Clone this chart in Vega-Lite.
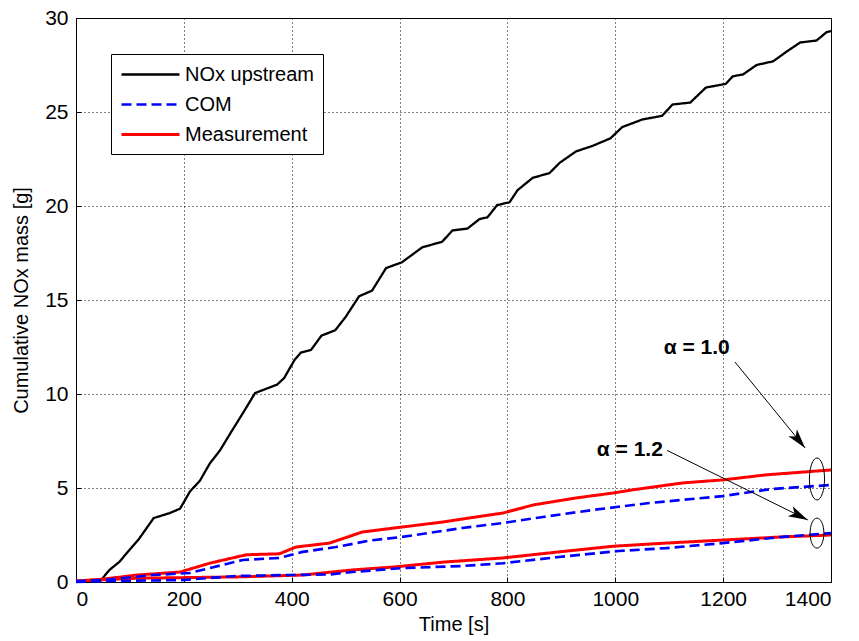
{
  "$schema": "https://vega.github.io/schema/vega-lite/v6.json",
  "width": 755,
  "height": 564,
  "autosize": "none",
  "padding": {"left": 76, "top": 18, "right": 28, "bottom": 59},
  "background": "white",
  "config": {
    "font": "Liberation Sans",
    "view": {"stroke": "#000000", "strokeWidth": 1},
    "axis": {
      "labelFont": "Liberation Sans",
      "titleFont": "Liberation Sans",
      "labelFontSize": 21,
      "titleFontSize": 20,
      "titleFontWeight": "normal",
      "labelColor": "#000000",
      "titleColor": "#000000",
      "domain": false,
      "grid": true,
      "gridColor": "#000000",
      "gridOpacity": 1,
      "gridWidth": 1,
      "gridDash": [1, 3],
      "tickColor": "#000000",
      "tickSize": -5
    }
  },
  "datasets": {
    "curves": [
      {"t": 0, "v": 0.05, "series": "NOx upstream", "case": "up"},
      {"t": 45, "v": 0.05, "series": "NOx upstream", "case": "up"},
      {"t": 62, "v": 0.64, "series": "NOx upstream", "case": "up"},
      {"t": 80, "v": 1.06, "series": "NOx upstream", "case": "up"},
      {"t": 99, "v": 1.7, "series": "NOx upstream", "case": "up"},
      {"t": 117, "v": 2.3, "series": "NOx upstream", "case": "up"},
      {"t": 144, "v": 3.4, "series": "NOx upstream", "case": "up"},
      {"t": 174, "v": 3.67, "series": "NOx upstream", "case": "up"},
      {"t": 193, "v": 3.9, "series": "NOx upstream", "case": "up"},
      {"t": 211, "v": 4.8, "series": "NOx upstream", "case": "up"},
      {"t": 230, "v": 5.4, "series": "NOx upstream", "case": "up"},
      {"t": 248, "v": 6.3, "series": "NOx upstream", "case": "up"},
      {"t": 267, "v": 7.0, "series": "NOx upstream", "case": "up"},
      {"t": 286, "v": 7.9, "series": "NOx upstream", "case": "up"},
      {"t": 312, "v": 9.1, "series": "NOx upstream", "case": "up"},
      {"t": 332, "v": 10.05, "series": "NOx upstream", "case": "up"},
      {"t": 373, "v": 10.5, "series": "NOx upstream", "case": "up"},
      {"t": 386, "v": 10.85, "series": "NOx upstream", "case": "up"},
      {"t": 405, "v": 11.8, "series": "NOx upstream", "case": "up"},
      {"t": 417, "v": 12.2, "series": "NOx upstream", "case": "up"},
      {"t": 436, "v": 12.35, "series": "NOx upstream", "case": "up"},
      {"t": 455, "v": 13.1, "series": "NOx upstream", "case": "up"},
      {"t": 481, "v": 13.4, "series": "NOx upstream", "case": "up"},
      {"t": 500, "v": 14.1, "series": "NOx upstream", "case": "up"},
      {"t": 525, "v": 15.2, "series": "NOx upstream", "case": "up"},
      {"t": 549, "v": 15.5, "series": "NOx upstream", "case": "up"},
      {"t": 575, "v": 16.7, "series": "NOx upstream", "case": "up"},
      {"t": 604, "v": 17.0, "series": "NOx upstream", "case": "up"},
      {"t": 642, "v": 17.8, "series": "NOx upstream", "case": "up"},
      {"t": 679, "v": 18.1, "series": "NOx upstream", "case": "up"},
      {"t": 698, "v": 18.7, "series": "NOx upstream", "case": "up"},
      {"t": 726, "v": 18.8, "series": "NOx upstream", "case": "up"},
      {"t": 748, "v": 19.3, "series": "NOx upstream", "case": "up"},
      {"t": 763, "v": 19.4, "series": "NOx upstream", "case": "up"},
      {"t": 781, "v": 20.05, "series": "NOx upstream", "case": "up"},
      {"t": 804, "v": 20.2, "series": "NOx upstream", "case": "up"},
      {"t": 819, "v": 20.85, "series": "NOx upstream", "case": "up"},
      {"t": 847, "v": 21.5, "series": "NOx upstream", "case": "up"},
      {"t": 878, "v": 21.75, "series": "NOx upstream", "case": "up"},
      {"t": 897, "v": 22.3, "series": "NOx upstream", "case": "up"},
      {"t": 927, "v": 22.9, "series": "NOx upstream", "case": "up"},
      {"t": 958, "v": 23.2, "series": "NOx upstream", "case": "up"},
      {"t": 991, "v": 23.6, "series": "NOx upstream", "case": "up"},
      {"t": 1013, "v": 24.2, "series": "NOx upstream", "case": "up"},
      {"t": 1050, "v": 24.6, "series": "NOx upstream", "case": "up"},
      {"t": 1087, "v": 24.8, "series": "NOx upstream", "case": "up"},
      {"t": 1106, "v": 25.4, "series": "NOx upstream", "case": "up"},
      {"t": 1139, "v": 25.5, "series": "NOx upstream", "case": "up"},
      {"t": 1168, "v": 26.3, "series": "NOx upstream", "case": "up"},
      {"t": 1205, "v": 26.5, "series": "NOx upstream", "case": "up"},
      {"t": 1218, "v": 26.9, "series": "NOx upstream", "case": "up"},
      {"t": 1237, "v": 27.0, "series": "NOx upstream", "case": "up"},
      {"t": 1262, "v": 27.5, "series": "NOx upstream", "case": "up"},
      {"t": 1293, "v": 27.7, "series": "NOx upstream", "case": "up"},
      {"t": 1317, "v": 28.2, "series": "NOx upstream", "case": "up"},
      {"t": 1343, "v": 28.7, "series": "NOx upstream", "case": "up"},
      {"t": 1373, "v": 28.8, "series": "NOx upstream", "case": "up"},
      {"t": 1392, "v": 29.25, "series": "NOx upstream", "case": "up"},
      {"t": 1400, "v": 29.3, "series": "NOx upstream", "case": "up"},

      {"t": 0, "v": 0.05, "series": "Measurement", "case": "a10"},
      {"t": 50, "v": 0.15, "series": "Measurement", "case": "a10"},
      {"t": 113, "v": 0.37, "series": "Measurement", "case": "a10"},
      {"t": 193, "v": 0.53, "series": "Measurement", "case": "a10"},
      {"t": 248, "v": 1.0, "series": "Measurement", "case": "a10"},
      {"t": 316, "v": 1.45, "series": "Measurement", "case": "a10"},
      {"t": 377, "v": 1.5, "series": "Measurement", "case": "a10"},
      {"t": 408, "v": 1.86, "series": "Measurement", "case": "a10"},
      {"t": 470, "v": 2.07, "series": "Measurement", "case": "a10"},
      {"t": 531, "v": 2.66, "series": "Measurement", "case": "a10"},
      {"t": 590, "v": 2.87, "series": "Measurement", "case": "a10"},
      {"t": 682, "v": 3.2, "series": "Measurement", "case": "a10"},
      {"t": 742, "v": 3.46, "series": "Measurement", "case": "a10"},
      {"t": 792, "v": 3.67, "series": "Measurement", "case": "a10"},
      {"t": 848, "v": 4.1, "series": "Measurement", "case": "a10"},
      {"t": 927, "v": 4.47, "series": "Measurement", "case": "a10"},
      {"t": 995, "v": 4.73, "series": "Measurement", "case": "a10"},
      {"t": 1032, "v": 4.9, "series": "Measurement", "case": "a10"},
      {"t": 1125, "v": 5.27, "series": "Measurement", "case": "a10"},
      {"t": 1199, "v": 5.43, "series": "Measurement", "case": "a10"},
      {"t": 1280, "v": 5.7, "series": "Measurement", "case": "a10"},
      {"t": 1400, "v": 5.96, "series": "Measurement", "case": "a10"},

      {"t": 0, "v": 0.05, "series": "Measurement", "case": "a12"},
      {"t": 113, "v": 0.2, "series": "Measurement", "case": "a12"},
      {"t": 298, "v": 0.27, "series": "Measurement", "case": "a12"},
      {"t": 420, "v": 0.37, "series": "Measurement", "case": "a12"},
      {"t": 512, "v": 0.64, "series": "Measurement", "case": "a12"},
      {"t": 590, "v": 0.8, "series": "Measurement", "case": "a12"},
      {"t": 682, "v": 1.06, "series": "Measurement", "case": "a12"},
      {"t": 792, "v": 1.28, "series": "Measurement", "case": "a12"},
      {"t": 895, "v": 1.6, "series": "Measurement", "case": "a12"},
      {"t": 995, "v": 1.9, "series": "Measurement", "case": "a12"},
      {"t": 1094, "v": 2.07, "series": "Measurement", "case": "a12"},
      {"t": 1199, "v": 2.23, "series": "Measurement", "case": "a12"},
      {"t": 1310, "v": 2.4, "series": "Measurement", "case": "a12"},
      {"t": 1400, "v": 2.5, "series": "Measurement", "case": "a12"},

      {"t": 0, "v": 0.05, "series": "COM", "case": "c10"},
      {"t": 50, "v": 0.1, "series": "COM", "case": "c10"},
      {"t": 142, "v": 0.37, "series": "COM", "case": "c10"},
      {"t": 211, "v": 0.48, "series": "COM", "case": "c10"},
      {"t": 248, "v": 0.74, "series": "COM", "case": "c10"},
      {"t": 309, "v": 1.17, "series": "COM", "case": "c10"},
      {"t": 377, "v": 1.28, "series": "COM", "case": "c10"},
      {"t": 420, "v": 1.6, "series": "COM", "case": "c10"},
      {"t": 482, "v": 1.86, "series": "COM", "case": "c10"},
      {"t": 544, "v": 2.2, "series": "COM", "case": "c10"},
      {"t": 605, "v": 2.4, "series": "COM", "case": "c10"},
      {"t": 716, "v": 2.87, "series": "COM", "case": "c10"},
      {"t": 792, "v": 3.14, "series": "COM", "case": "c10"},
      {"t": 866, "v": 3.46, "series": "COM", "case": "c10"},
      {"t": 958, "v": 3.83, "series": "COM", "case": "c10"},
      {"t": 1006, "v": 4.0, "series": "COM", "case": "c10"},
      {"t": 1063, "v": 4.2, "series": "COM", "case": "c10"},
      {"t": 1199, "v": 4.57, "series": "COM", "case": "c10"},
      {"t": 1291, "v": 4.95, "series": "COM", "case": "c10"},
      {"t": 1400, "v": 5.16, "series": "COM", "case": "c10"},

      {"t": 0, "v": 0.0, "series": "COM", "case": "c12"},
      {"t": 50, "v": 0.05, "series": "COM", "case": "c12"},
      {"t": 193, "v": 0.1, "series": "COM", "case": "c12"},
      {"t": 298, "v": 0.32, "series": "COM", "case": "c12"},
      {"t": 396, "v": 0.37, "series": "COM", "case": "c12"},
      {"t": 470, "v": 0.4, "series": "COM", "case": "c12"},
      {"t": 512, "v": 0.53, "series": "COM", "case": "c12"},
      {"t": 605, "v": 0.74, "series": "COM", "case": "c12"},
      {"t": 716, "v": 0.85, "series": "COM", "case": "c12"},
      {"t": 792, "v": 1.0, "series": "COM", "case": "c12"},
      {"t": 895, "v": 1.33, "series": "COM", "case": "c12"},
      {"t": 1006, "v": 1.65, "series": "COM", "case": "c12"},
      {"t": 1094, "v": 1.8, "series": "COM", "case": "c12"},
      {"t": 1199, "v": 2.07, "series": "COM", "case": "c12"},
      {"t": 1310, "v": 2.4, "series": "COM", "case": "c12"},
      {"t": 1400, "v": 2.6, "series": "COM", "case": "c12"}
    ],
    "notes": [
      {"label": "α = 1.0", "tx": 1151, "ty": 12.45, "ax": 1222, "ay": 11.7, "hx": 1352, "hy": 7.13, "ex": 1374, "ey": 5.48},
      {"label": "α = 1.2", "tx": 1027, "ty": 7.0, "ax": 1096, "ay": 7.0, "hx": 1357, "hy": 3.3, "ex": 1374, "ey": 2.6}
    ]
  },
  "layer": [
    {
      "data": {"name": "curves"},
      "mark": {"type": "line", "interpolate": "linear", "strokeCap": "butt"},
      "encoding": {
        "x": {"field": "t", "type": "quantitative", "scale": {"domain": [0, 1400], "nice": false}, "axis": {"title": "Time [s]", "format": "d", "values": [0, 200, 400, 600, 800, 1000, 1200, 1400], "labelPadding": 11, "titlePadding": 5}},
        "y": {"field": "v", "type": "quantitative", "scale": {"domain": [0, 30], "nice": false}, "axis": {"title": "Cumulative NOx mass [g]", "values": [0, 5, 10, 15, 20, 25, 30], "labelPadding": 13, "titlePadding": 13}},
        "color": {
          "field": "series", "type": "nominal",
          "scale": {"domain": ["NOx upstream", "COM", "Measurement"], "range": ["#000000", "#0000ff", "#ff0000"]},
          "legend": {
            "title": null, "orient": "none", "legendX": 35, "legendY": 36,
            "strokeColor": "#000000", "fillColor": "#ffffff", "padding": 9,
            "labelFontSize": 20, "labelFont": "Liberation Sans", "labelColor": "#000000",
            "symbolType": "M-1,0 L4.8,0", "symbolSize": 400, "labelOffset": 42, "rowPadding": 8
          }
        },
        "strokeDash": {
          "field": "series", "type": "nominal",
          "scale": {"domain": ["NOx upstream", "COM", "Measurement"], "range": [[1, 0], [10, 5], [1, 0]]}
        },
        "strokeWidth": {
          "field": "series", "type": "nominal",
          "scale": {"domain": ["NOx upstream", "COM", "Measurement"], "range": [2.3, 3, 3.5]}
        },
        "detail": {"field": "case", "type": "nominal"},
        "order": {"field": "t", "type": "quantitative"}
      }
    },
    {
      "data": {"name": "notes"},
      "mark": {"type": "rule", "color": "#000000", "strokeWidth": 1},
      "encoding": {
        "x": {"field": "ax", "type": "quantitative"},
        "y": {"field": "ay", "type": "quantitative"},
        "x2": {"field": "hx"},
        "y2": {"field": "hy"}
      }
    },
    {
      "data": {"name": "notes"},
      "transform": [{"filter": "datum.label === 'α = 1.0'"}],
      "mark": {"type": "point", "shape": "M0,0 L-0.45,1.6 L0,1.2 L0.45,1.6 Z", "filled": true, "color": "#000000", "size": 600, "angle": 140.5, "opacity": 1},
      "encoding": {
        "x": {"field": "hx", "type": "quantitative"},
        "y": {"field": "hy", "type": "quantitative"}
      }
    },
    {
      "data": {"name": "notes"},
      "transform": [{"filter": "datum.label === 'α = 1.2'"}],
      "mark": {"type": "point", "shape": "M0,0 L-0.45,1.6 L0,1.2 L0.45,1.6 Z", "filled": true, "color": "#000000", "size": 600, "angle": 116.4, "opacity": 1},
      "encoding": {
        "x": {"field": "hx", "type": "quantitative"},
        "y": {"field": "hy", "type": "quantitative"}
      }
    },
    {
      "data": {"name": "notes"},
      "mark": {"type": "text", "font": "Liberation Sans", "fontSize": 21, "fontWeight": "bold", "color": "#000000", "align": "center", "baseline": "middle"},
      "encoding": {
        "x": {"field": "tx", "type": "quantitative"},
        "y": {"field": "ty", "type": "quantitative"},
        "text": {"field": "label", "type": "nominal"}
      }
    },
    {
      "data": {"name": "notes"},
      "transform": [{"filter": "datum.label === 'α = 1.0'"}],
      "mark": {"type": "point", "shape": "M0,-1 A0.36,1 0 1,1 0,1 A0.36,1 0 1,1 0,-1 Z", "filled": false, "color": "#000000", "strokeWidth": 1, "size": 1764, "opacity": 1},
      "encoding": {
        "x": {"field": "ex", "type": "quantitative"},
        "y": {"field": "ey", "type": "quantitative"}
      }
    },
    {
      "data": {"name": "notes"},
      "transform": [{"filter": "datum.label === 'α = 1.2'"}],
      "mark": {"type": "point", "shape": "M0,-1 A0.46,1 0 1,1 0,1 A0.46,1 0 1,1 0,-1 Z", "filled": false, "color": "#000000", "strokeWidth": 1, "size": 900, "opacity": 1},
      "encoding": {
        "x": {"field": "ex", "type": "quantitative"},
        "y": {"field": "ey", "type": "quantitative"}
      }
    }
  ]
}
